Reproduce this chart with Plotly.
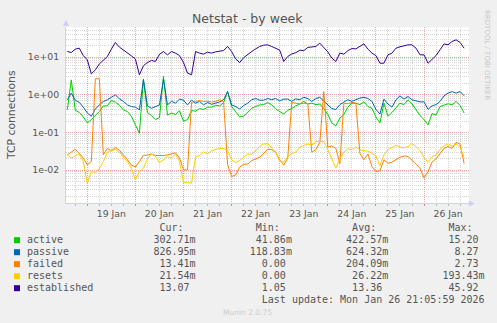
import pandas as pd
import plotly.graph_objects as go

# ---------------- data ----------------
times = pd.date_range("2026-01-18 14:00", periods=100, freq="2h")

active = [0.40, 2.5, 0.39, 0.34, 0.26, 0.18, 0.22, 0.28, 0.36, 0.51, 0.51, 0.71, 0.64, 0.53, 0.40, 0.36, 0.27, 0.16, 0.096, 2.5, 0.34, 0.28, 0.22, 0.25, 3.1,
          0.29, 0.33, 0.30, 0.38, 0.20, 0.22, 0.38, 0.37, 0.43, 0.41, 0.47, 0.47, 0.53, 0.51, 0.62, 1.22, 0.49, 0.36, 0.26, 0.27, 0.34, 0.44, 0.49, 0.54, 0.55, 0.62,
          0.54, 0.42, 0.36, 0.31, 0.39, 0.43, 0.51, 0.57, 0.67, 0.57, 0.60, 0.55, 0.57, 0.43, 0.30, 0.18, 0.15, 0.24, 0.30, 0.47, 0.60, 0.60, 0.55, 0.65, 0.49, 0.44,
          0.26, 0.18, 0.60, 0.27, 0.34, 0.45, 0.60, 0.55, 0.74, 0.58, 0.40, 0.28, 0.22, 0.16, 0.32, 0.29, 0.49, 0.53, 0.58, 0.54, 0.67, 0.52, 0.33]

passive = [0.74, 1.11, 0.72, 0.63, 0.47, 0.33, 0.27, 0.42, 0.54, 0.67, 0.74, 0.86, 1.0, 0.78, 0.67, 0.54, 0.49, 0.47, 0.40, 2.6, 0.51, 0.44, 0.49, 0.54, 2.6,
           0.54, 0.67, 0.60, 0.77, 0.72, 0.54, 0.72, 0.60, 0.67, 0.54, 0.63, 0.56, 0.60, 0.65, 0.74, 1.22, 0.54, 0.49, 0.42, 0.52, 0.60, 0.74, 0.80, 0.72, 0.72, 0.80,
           0.74, 0.80, 0.69, 0.77, 0.77, 0.67, 0.78, 0.74, 0.86, 0.80, 0.67, 0.80, 0.86, 0.69, 0.55, 0.43, 0.41, 0.55, 0.64, 0.74, 0.67, 0.74, 0.82, 0.86, 0.80, 0.67,
           0.41, 0.31, 0.77, 0.57, 0.47, 0.74, 0.94, 0.77, 0.90, 0.74, 0.69, 0.65, 0.65, 0.41, 0.51, 0.55, 0.67, 0.94, 1.11, 1.22, 1.11, 1.22, 0.94]

failed = [0.0255, 0.030, 0.036, 0.028, 0.021, 0.0139, 0.017, 2.65, 2.7, 0.0255, 0.038, 0.033, 0.040, 0.034, 0.026, 0.019, 0.0136, 0.0122, 0.017, 0.025, 0.025, 0.027, 0.0245, 0.024, 0.0245,
          0.0255, 0.027, 0.029, 0.021, 0.0102, 0.0102, 0.63, 0.67, 0.70, 0.67, 0.68, 0.64, 0.67, 0.74, 0.66, 0.0139, 0.0068, 0.0075, 0.012, 0.0145, 0.0145, 0.018, 0.020, 0.022, 0.028, 0.036,
          0.035, 0.030, 0.0188, 0.0136, 0.021, 0.63, 0.60, 0.58, 0.60, 0.58, 0.030, 0.035, 0.055, 1.22, 0.041, 0.044, 0.038, 0.015, 0.60, 0.58, 0.63, 0.60, 0.028, 0.019, 0.027, 0.0125,
          0.0092, 0.0097, 0.0188, 0.0153, 0.0165, 0.0195, 0.022, 0.024, 0.023, 0.0185, 0.0145, 0.0113, 0.0062, 0.0092, 0.0165, 0.020, 0.0275, 0.038, 0.0425, 0.038, 0.055, 0.049, 0.015]

resets = [0.0255, 0.021, 0.024, 0.027, 0.017, 0.0045, 0.0092, 0.0086, 0.0108, 0.017, 0.030, 0.033, 0.036, 0.030, 0.022, 0.017, 0.0113, 0.0055, 0.0092, 0.0113, 0.020, 0.027, 0.0231, 0.016, 0.0188,
          0.0231, 0.0208, 0.027, 0.017, 0.0047, 0.0047, 0.0045, 0.0231, 0.024, 0.031, 0.027, 0.033, 0.035, 0.038, 0.0375, 0.033, 0.0188, 0.016, 0.018, 0.022, 0.027, 0.0265, 0.034, 0.0425, 0.050, 0.050,
          0.039, 0.030, 0.017, 0.0165, 0.0225, 0.028, 0.030, 0.041, 0.045, 0.050, 0.046, 0.058, 0.057, 0.058, 0.036, 0.0208, 0.0113, 0.020, 0.030, 0.037, 0.035, 0.041, 0.035, 0.033, 0.032, 0.028,
          0.024, 0.013, 0.0255, 0.035, 0.040, 0.046, 0.041, 0.039, 0.0425, 0.051, 0.0425, 0.033, 0.022, 0.016, 0.0231, 0.0255, 0.036, 0.044, 0.050, 0.043, 0.050, 0.041, 0.022]

established = [14.1, 13.3, 16.3, 17.3, 11.0, 8.5, 3.6, 4.6, 6.6, 8.2, 10.4, 16.3, 24.5, 18.5, 15.7, 12.8, 10.8, 8.9, 3.4, 5.9, 7.2, 8.2, 7.7, 11.9, 14.1,
               11.5, 14.1, 12.8, 11.0, 7.2, 3.8, 3.4, 14.1, 12.8, 12.0, 13.6, 12.8, 13.8, 14.1, 15.0, 19.2, 14.1, 9.0, 7.2, 9.7, 11.9, 14.1, 16.6, 19.2, 20.8, 21.2,
               19.2, 16.9, 15.3, 7.7, 10.4, 12.2, 13.1, 15.3, 14.9, 18.1, 18.5, 19.2, 23.5, 18.5, 13.8, 9.4, 7.7, 12.8, 12.0, 14.9, 16.9, 16.6, 19.2, 22.5, 16.3, 12.8,
               11.0, 6.9, 6.9, 11.5, 12.8, 17.3, 18.8, 20.3, 21.2, 21.2, 17.3, 11.5, 11.5, 6.9, 8.5, 11.0, 15.7, 22.5, 21.2, 26.1, 28.8, 24.5, 17.3]

series_names = ["active", "passive", "failed", "resets", "established"]
series_colors = ["#00CC00", "#0066B3", "#FF8000", "#FFCC00", "#330099"]
series_values = [active, passive, failed, resets, established]

stat_cur = [0.30271, 0.82695, 0.01341, 0.02154, 13.07]
stat_min = [0.04186, 0.11883, 0.0, 0.0, 1.05]
stat_avg = [0.42257, 0.62432, 0.20409, 0.02622, 13.36]
stat_max = [15.20, 8.27, 2.73, 0.19343, 45.92]

day_ticks = ["2026-01-%02d" % d for d in range(19, 27)]
day_labels = ["%d Jan" % d for d in range(19, 27)]
y_ticks = [0.01, 0.1, 1, 10]
y_labels = ["1e-02", "1e-01", "1e+00", "1e+01"]

title = "Netstat - by week"
y_title = "TCP connections"
last_update = "Last update: Mon Jan 26 21:05:59 2026"

# ---------------- layout helpers ----------------
W, H = 497, 323
ML, MR, MT, MB = 66, 28, 27, 120
PW, PH = W - ML - MR, H - MT - MB


def px(x):
    return (x - ML) / PW


def py(y):
    return (H - MB - y) / PH


def fmt(v):
    if v != 0 and abs(v) < 1:
        return "%.2fm" % (v * 1000)
    return "%.2f " % v


NB = "\u00a0"
GRAY = "#555555"

fig = go.Figure()
for name, color, vals in zip(series_names, series_colors, series_values):
    fig.add_trace(go.Scatter(x=times, y=vals, mode="lines", name=name,
                             line=dict(color=color, width=1), hoverinfo="skip"))

minor_y = [m * 10 ** e for e in range(-3, 2) for m in range(2, 10)]

fig.update_layout(
    width=W, height=H, autosize=False,
    margin=dict(l=ML, r=MR, t=MT, b=MB, pad=0),
    paper_bgcolor="#F0F0F0", plot_bgcolor="#FFFFFF",
    showlegend=False, hovermode=False,
    xaxis=dict(
        type="date", range=["2026-01-18 13:22", "2026-01-26 22:26"],
        tickmode="array", tickvals=day_ticks, ticktext=day_labels,
        ticklabelshift=24,
        showgrid=True, gridcolor="#EBA9A9", griddash="1px,1px", gridwidth=1,
        ticks="outside", ticklen=2, tickcolor="#E08080",
        minor=dict(dtick=6 * 3600 * 1000, tick0="2026-01-19", showgrid=True,
                   gridcolor="#D6D6D6", griddash="1px,1px", gridwidth=1,
                   ticks="outside", ticklen=2, tickcolor="#BBBBBB"),
        showline=True, linecolor="#CCD0F2", linewidth=1, zeroline=False,
        tickfont=dict(family="DejaVu Sans", size=9.3, color=GRAY),
        fixedrange=True,
    ),
    yaxis=dict(
        type="log", range=[-2.87, 1.80],
        tickmode="array", tickvals=y_ticks, ticktext=y_labels,
        showgrid=True, gridcolor="#EBA9A9", griddash="1px,1px", gridwidth=1,
        minor=dict(tickmode="array", tickvals=minor_y, showgrid=True,
                   gridcolor="#D6D6D6", griddash="1px,1px", gridwidth=1),
        ticks="", showline=True, linecolor="#CCD0F2", linewidth=1,
        zeroline=False, ticklabelstandoff=4,
        tickfont=dict(family="DejaVu Sans", size=9.3, color=GRAY),
        fixedrange=True,
    ),
)

ann = []
shapes = []
ann.append(dict(text=title, x=px(247.5), y=py(18), xref="paper", yref="paper",
                showarrow=False, xanchor="center", yanchor="middle",
                font=dict(family="DejaVu Sans", size=12.5, color=GRAY)))
ann.append(dict(text=y_title, x=px(11), y=py(115), xref="paper", yref="paper",
                showarrow=False, xanchor="center", yanchor="middle", textangle=-90,
                font=dict(family="DejaVu Sans", size=10.8, color=GRAY)))
ann.append(dict(text="RRDTOOL / TOBI OETIKER", x=px(487), y=py(55), xref="paper", yref="paper",
                showarrow=False, xanchor="center", yanchor="middle", textangle=90,
                font=dict(family="DejaVu Sans", size=7, color="#C8C8C8")))
ann.append(dict(text="Munin 2.0.75", x=px(247.5), y=py(312), xref="paper", yref="paper",
                showarrow=False, xanchor="center", yanchor="middle",
                font=dict(family="DejaVu Sans", size=7.5, color="#CCCCCC")))

mono = dict(family="DejaVu Sans Mono", size=10, color=GRAY)
header = " " * 22 + "Cur:" + " " * 12 + "Min:" + " " * 12 + "Avg:" + " " * 12 + "Max:"
row_y = [227.3, 239.7, 251.7, 263.6, 275.7, 287.7, 299.3]
rows = [header]
for i, name in enumerate(series_names):
    c = fmt(stat_cur[i])
    r = name.ljust(28 - len(c)) + c + fmt(stat_min[i]).rjust(16) + \
        fmt(stat_avg[i]).rjust(16) + fmt(stat_max[i]).rjust(16)
    rows.append(r)
rows.append(" " * (76 - len(last_update)) + last_update)
for r, yy in zip(rows, row_y):
    ann.append(dict(text=r.replace(" ", NB), x=px(25), y=py(yy), xref="paper", yref="paper",
                    showarrow=False, xanchor="left", yanchor="middle", align="left",
                    font=mono))

for i, color in enumerate(series_colors):
    yc = row_y[i + 1] + 0.5
    shapes.append(dict(type="rect", xref="paper", yref="paper",
                       x0=px(14), x1=px(20), y0=py(yc + 3), y1=py(yc - 3),
                       fillcolor=color, line=dict(width=0)))

# axis arrows
arrow_col = "#CCD0F2"
shapes.append(dict(type="path", xref="paper", yref="paper",
                   path="M %f,%f L %f,%f L %f,%f Z" % (px(63), py(26), px(69), py(26), px(66), py(20)),
                   fillcolor=arrow_col, line=dict(width=0)))
shapes.append(dict(type="path", xref="paper", yref="paper",
                   path="M %f,%f L %f,%f L %f,%f Z" % (px(469), py(200.5), px(469), py(206.5), px(475), py(203.5)),
                   fillcolor=arrow_col, line=dict(width=0)))

fig.update_layout(annotations=ann, shapes=shapes)
fig.write_html("out.html")
